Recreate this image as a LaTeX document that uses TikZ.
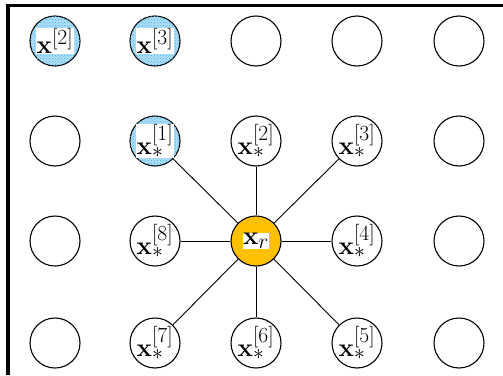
\documentclass[tikz,border=0pt]{standalone}
\usepackage{graphicx}
\usetikzlibrary{patterns}
\definecolor{gold}{RGB}{255,192,0}
\definecolor{dotblue}{RGB}{60,175,235}
\newcommand{\lbl}[1]{\scalebox{1.04}{$#1$}}
\tikzset{
  cell/.style={circle,draw,line width=1.1pt,minimum size=50pt,inner sep=0pt},
  blue/.style={cell,fill=dotblue!40,postaction={pattern=crosshatch dots,pattern color=dotblue}},
  center/.style={cell,fill=gold},
  lab/.style={fill=white,inner sep=0.3pt,font=\fontsize{24.88}{30}\selectfont},
  plain/.style={inner sep=0pt,font=\fontsize{24.88}{30}\selectfont},
  link/.style={line width=0.9pt},
  frame/.style={line width=3.6pt}
}
\begin{document}
\begin{tikzpicture}[x=1pt,y=-1pt]
\useasboundingbox (0,0) rectangle (503,375);
\draw[frame] (6,5.5) coordinate (tl0) -- (503,5.5) coordinate (tr);
\draw[frame] (8,4) coordinate (tl) -- (8,375) coordinate (bl);
% row 1
\node[blue] (a1) at (55,41) {};
\node[lab] (ta1) at (a1) {\lbl{\mathbf{x}^{[2]}}};
\node[blue] (a2) at (155,41) {};
\node[lab] (ta2) at (a2) {\lbl{\mathbf{x}^{[3]}}};
\node[cell] (a3) at (256,41) {};
\node[cell] (a4) at (357,41) {};
\node[cell] (a5) at (459,41) {};
% row 2
\node[cell] (b1) at (55,141) {};
\node[blue] (b2) at (155,141) {};
\node[lab] (tb2) at (b2) {\lbl{\mathbf{x}_*^{[1]}}};
\node[cell] (b3) at (256,141) {};
\node[plain] (tb3) at (b3) {\lbl{\mathbf{x}_*^{[2]}}};
\node[cell] (b4) at (357,141) {};
\node[plain] (tb4) at (b4) {\lbl{\mathbf{x}_*^{[3]}}};
\node[cell] (b5) at (459,141) {};
% row 3
\node[cell] (c1) at (55,241) {};
\node[cell] (c2) at (155,241) {};
\node[plain] (tc2) at (c2) {\lbl{\mathbf{x}_*^{[8]}}};
\node[center] (c3) at (256,241) {};
\node[lab] (tc3) at (c3) {\lbl{\mathbf{x}_r}};
\node[cell] (c4) at (357,241) {};
\node[plain] (tc4) at (c4) {\lbl{\mathbf{x}_*^{[4]}}};
\node[cell] (c5) at (459,241) {};
% row 4
\node[cell] (d1) at (55,343) {};
\node[cell] (d2) at (155,343) {};
\node[plain] (td2) at (d2) {\lbl{\mathbf{x}_*^{[7]}}};
\node[cell] (d3) at (256,343) {};
\node[plain] (td3) at (d3) {\lbl{\mathbf{x}_*^{[6]}}};
\node[cell] (d4) at (357,343) {};
\node[plain] (td4) at (d4) {\lbl{\mathbf{x}_*^{[5]}}};
\node[cell] (d5) at (459,343) {};
% links
\foreach \n in {b2,b3,b4,c2,c4,d2,d3,d4}
  \draw[link] (c3) -- (\n);
\end{tikzpicture}
\end{document}
